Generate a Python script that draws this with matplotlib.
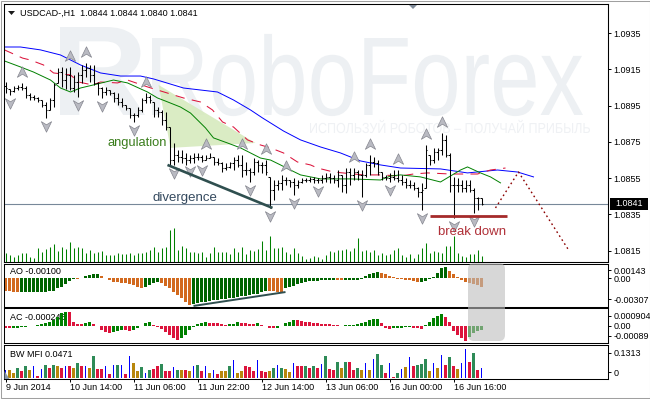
import matplotlib
matplotlib.use("Agg")
import matplotlib.pyplot as plt
import numpy as np
from matplotlib.path import Path
from matplotlib.patches import Polygon, Rectangle, FancyBboxPatch, PathPatch
from matplotlib.textpath import TextPath
from matplotlib.font_manager import FontProperties
from matplotlib.transforms import Affine2D, blended_transform_factory, offset_copy
from matplotlib.collections import LineCollection

# ---------------- data ----------------
title_text = "USDCAD-,H1  1.0844 1.0844 1.0840 1.0841"
first_open = 1.09060
highs = [1.09080, 1.09042, 1.09058, 1.09064, 1.09075, 1.09058, 1.09020, 1.09009, 1.08998, 1.08981,
         1.08970, 1.08992, 1.09075, 1.09157, 1.09163, 1.09157, 1.09163, 1.09119, 1.09135, 1.09174,
         1.09185, 1.09174, 1.09174, 1.09080, 1.09053, 1.09053, 1.09036, 1.09025, 1.09020, 1.08992,
         1.08953, 1.08937, 1.08909, 1.08942, 1.08992, 1.09020, 1.09009, 1.08970, 1.08942, 1.08926,
         1.08915, 1.08832, 1.08744, 1.08705, 1.08705, 1.08689, 1.08678, 1.08689, 1.08689, 1.08678,
         1.08678, 1.08689, 1.08667, 1.08661, 1.08639, 1.08634, 1.08639, 1.08667, 1.08678, 1.08678,
         1.08639, 1.08606, 1.08661, 1.08650, 1.08639, 1.08650, 1.08557, 1.08540, 1.08540, 1.08568,
         1.08557, 1.08540, 1.08551, 1.08540, 1.08551, 1.08551, 1.08557, 1.08557, 1.08551, 1.08568,
         1.08579, 1.08579, 1.08568, 1.08595, 1.08568, 1.08606, 1.08606, 1.08606, 1.08595, 1.08595,
         1.08634, 1.08678, 1.08667, 1.08650, 1.08584, 1.08568, 1.08579, 1.08595, 1.08595, 1.08568,
         1.08551, 1.08540, 1.08529, 1.08502, 1.08524, 1.08733, 1.08678, 1.08717, 1.08717, 1.08799,
         1.08788, 1.08689, 1.08557, 1.08551, 1.08540, 1.08540, 1.08540, 1.08496, 1.08447, 1.08440]
lows = [1.09020, 1.09009, 1.09025, 1.09036, 1.09036, 1.08992, 1.08981, 1.08981, 1.08970, 1.08942,
        1.08882, 1.08926, 1.08942, 1.09075, 1.09053, 1.09042, 1.09036, 1.09025, 1.08998, 1.09075,
        1.09108, 1.09080, 1.09064, 1.09009, 1.08992, 1.09009, 1.09009, 1.08970, 1.08953, 1.08942,
        1.08926, 1.08882, 1.08860, 1.08887, 1.08915, 1.08964, 1.08964, 1.08887, 1.08887, 1.08843,
        1.08816, 1.08623, 1.08623, 1.08639, 1.08634, 1.08623, 1.08634, 1.08634, 1.08650, 1.08639,
        1.08650, 1.08661, 1.08623, 1.08623, 1.08584, 1.08595, 1.08606, 1.08595, 1.08612, 1.08557,
        1.08568, 1.08529, 1.08568, 1.08584, 1.08579, 1.08568, 1.08386, 1.08430, 1.08485, 1.08485,
        1.08513, 1.08502, 1.08458, 1.08496, 1.08524, 1.08529, 1.08529, 1.08524, 1.08524, 1.08524,
        1.08529, 1.08524, 1.08524, 1.08502, 1.08474, 1.08469, 1.08513, 1.08540, 1.08540, 1.08447,
        1.08557, 1.08568, 1.08612, 1.08568, 1.08540, 1.08540, 1.08529, 1.08540, 1.08529, 1.08513,
        1.08496, 1.08496, 1.08485, 1.08447, 1.08375, 1.08496, 1.08623, 1.08634, 1.08650, 1.08678,
        1.08667, 1.08474, 1.08331, 1.08474, 1.08474, 1.08474, 1.08474, 1.08358, 1.08375, 1.08400]
closes = [1.09047, 1.09031, 1.09047, 1.09053, 1.09047, 1.09009, 1.08998, 1.08992, 1.08981, 1.08953,
          1.08926, 1.08981, 1.09064, 1.09135, 1.09091, 1.09119, 1.09047, 1.09080, 1.09119, 1.09146,
          1.09157, 1.09119, 1.09075, 1.09047, 1.09025, 1.09036, 1.09020, 1.08992, 1.08970, 1.08953,
          1.08937, 1.08898, 1.08898, 1.08926, 1.08981, 1.08998, 1.08981, 1.08926, 1.08915, 1.08871,
          1.08832, 1.08650, 1.08678, 1.08667, 1.08661, 1.08650, 1.08661, 1.08667, 1.08667, 1.08650,
          1.08661, 1.08667, 1.08639, 1.08634, 1.08606, 1.08612, 1.08634, 1.08650, 1.08623, 1.08595,
          1.08595, 1.08584, 1.08639, 1.08623, 1.08623, 1.08584, 1.08485, 1.08513, 1.08524, 1.08540,
          1.08540, 1.08529, 1.08513, 1.08529, 1.08540, 1.08540, 1.08546, 1.08540, 1.08540, 1.08551,
          1.08557, 1.08551, 1.08540, 1.08568, 1.08513, 1.08584, 1.08568, 1.08584, 1.08568, 1.08568,
          1.08623, 1.08639, 1.08634, 1.08584, 1.08557, 1.08551, 1.08557, 1.08551, 1.08540, 1.08529,
          1.08513, 1.08513, 1.08496, 1.08474, 1.08485, 1.08705, 1.08650, 1.08694, 1.08705, 1.08761,
          1.08678, 1.08513, 1.08513, 1.08513, 1.08496, 1.08513, 1.08485, 1.08442, 1.08440, 1.08410]
volume = [9, 7, 5, 7, 9, 9, 5, 4, 14, 10, 13, 15, 18, 11, 15, 13, 20, 14, 15, 14,
          9, 12, 9, 10, 11, 7, 7, 7, 9, 8, 8, 9, 7, 9, 9, 10, 12, 15, 10, 14,
          15, 32, 34, 12, 16, 14, 10, 10, 9, 10, 5, 9, 15, 10,
          10, 10, 8, 14, 10, 15, 8, 12, 11, 13, 21, 12, 26, 14, 14, 15, 10, 8, 14, 9,
          6, 3, 4, 6, 5, 3, 7, 11, 10, 12, 12, 13, 11, 14, 24, 11, 12, 10, 12, 7,
          9, 7, 8, 12, 14, 7, 5, 8, 4, 8, 14, 19, 9, 11, 10, 9, 16, 16, 26, 9,
          6, 5, 8, 8, 12, 6]

# Alligator lines (bar index, price); they run ahead of the last bar
jaw_x = [-0.25, 3.75, 8.75, 13.75, 18.75, 23.75, 28.75, 33.75, 37, 44.5, 48.75, 53, 57, 61.25,
         64.25, 69.5, 73.75, 78.75, 83.75, 88.75, 93.75, 98.75, 108.75, 115.5, 123, 128, 132]
jaw_p = [1.09273, 1.09273, 1.09257, 1.09229, 1.09174, 1.09130, 1.09113, 1.09113, 1.09097, 1.09047,
         1.09036, 1.09025, 1.08981, 1.08926, 1.08882, 1.08810, 1.08761, 1.08722, 1.08689, 1.08645,
         1.08623, 1.08606, 1.08601, 1.08579, 1.08595, 1.08584, 1.08557]
teeth_x = [-0.25, 4.25, 6.25, 9.5, 12, 16.25, 18.25, 21.75, 23.75, 28, 30.5, 35.5, 38, 44.5, 48.75,
           51.75, 54.25, 57, 60.5, 63.75, 66.25, 69.5, 73, 76.25, 78, 82, 89.5, 93.75, 98.75, 102,
           105.5, 111.25, 118, 121.25, 125]
teeth_p = [1.09257, 1.09212, 1.09201, 1.09174, 1.09130, 1.09119, 1.09080, 1.09064, 1.09080, 1.09075,
           1.09091, 1.09053, 1.09036, 1.08992, 1.08970, 1.08926, 1.08860, 1.08832, 1.08761, 1.08733,
           1.08717, 1.08689, 1.08639, 1.08623, 1.08606, 1.08584, 1.08568, 1.08568, 1.08562, 1.08573,
           1.08579, 1.08573, 1.08573, 1.08595, 1.08606]
lips_x = [-0.25, 3.75, 7, 11.25, 13.75, 16.25, 18.75, 22, 27, 30.5, 35.5, 38, 40, 43.75, 46.25, 50,
          52, 55.5, 58.75, 61.25, 63.75, 66.25, 68.75, 71.25, 73.75, 76.25, 78.75, 86.25, 93.75,
          96.25, 98.75, 103.75, 108.75, 113.75, 115.5, 118.75, 121.25, 123.75]
lips_p = [1.09196, 1.09163, 1.09135, 1.09091, 1.09047, 1.09025, 1.09047, 1.09064, 1.09091, 1.09075,
          1.09025, 1.08992, 1.08975, 1.08942, 1.08909, 1.08827, 1.08772, 1.08744, 1.08717, 1.08689,
          1.08661, 1.08650, 1.08623, 1.08595, 1.08568, 1.08557, 1.08546, 1.08546, 1.08540, 1.08562,
          1.08568, 1.08557, 1.08529, 1.08595, 1.08612, 1.08579, 1.08557, 1.08524]

fractal_up = [4, 16, 20, 35, 50, 59, 65, 70, 87, 91, 98, 105, 109]
fractal_down = [1, 10, 18, 24, 32, 42, 46, 49, 61, 66, 72, 78, 89, 96, 104, 112, 117]

ao = [-0.00140, -0.00144, -0.00148, -0.00152, -0.00151, -0.00150, -0.00149, -0.00148, -0.00147, -0.00146,
      -0.00145, -0.00143, -0.00135, -0.00110, -0.00092, -0.00066, -0.00029, -0.00007, -0.00010, 0.00007,
      0.00022, 0.00037, 0.00046, 0.00048, 0.00029, 0.00007, -0.00018, -0.00037, -0.00044, -0.00048,
      -0.00055, -0.00066, -0.00073, -0.00092, -0.00102, -0.00092, -0.00073, -0.00055, -0.00044, -0.00055,
      -0.00081, -0.00110, -0.00146, -0.00183, -0.00220, -0.00256, -0.00293, -0.00285, -0.00275, -0.00264,
      -0.00256, -0.00249, -0.00242, -0.00238, -0.00231, -0.00223, -0.00220, -0.00212, -0.00205, -0.00198,
      -0.00190, -0.00183, -0.00176, -0.00168, -0.00150, -0.00139, -0.00142, -0.00144, -0.00146, -0.00148,
      -0.00110, -0.00095, -0.00080, -0.00066, -0.00052, -0.00042, -0.00034, -0.00028, -0.00024, -0.00021,
      -0.00019, -0.00017, -0.00016, -0.00018, -0.00020, -0.00019, -0.00018, -0.00017, -0.00015, -0.00007,
      0.00029, 0.00044, 0.00055, 0.00066, 0.00064, 0.00048, 0.00029, 0.00011, -0.00002, -0.00007,
      -0.00015, -0.00018, -0.00029, -0.00044, -0.00037, -0.00026, -0.00007, 0.00018, 0.00055, 0.00110,
      0.00128, 0.00081, 0.00044, 0.00018, -0.00018, -0.00044, -0.00055, -0.00066, -0.00068, -0.00100]
ac = [-0.00013, -0.00014, -0.00012, -0.00009, -0.00007, -0.00006, -0.00002, 0.00002, 0.00006, 0.00009,
      0.00015, 0.00024, 0.00034, 0.00052, 0.00071, 0.00080, 0.00077, 0.00024, 0.00011, 0.00009,
      0.00015, 0.00024, 0.00009, 0.00002, -0.00022, -0.00032, -0.00041, -0.00036, -0.00028, -0.00022,
      -0.00024, -0.00028, -0.00022, -0.00013, 0.00000, 0.00015, 0.00024, 0.00006, -0.00004, -0.00017,
      -0.00032, -0.00050, -0.00065, -0.00079, -0.00069, -0.00050, -0.00022, -0.00004, 0.00009, 0.00019,
      0.00021, 0.00019, 0.00017, 0.00015, 0.00013, 0.00006, 0.00009, 0.00013, 0.00021, 0.00019,
      0.00015, 0.00013, 0.00011, 0.00017, 0.00006, -0.00002, -0.00009, -0.00013, -0.00009, 0.00000,
      0.00015, 0.00024, 0.00034, 0.00032, 0.00028, 0.00024, 0.00021, 0.00017, 0.00015, 0.00013,
      0.00011, 0.00009, 0.00007, 0.00006, 0.00002, 0.00004, 0.00006, 0.00007, 0.00009, 0.00015,
      0.00024, 0.00032, 0.00037, 0.00039, 0.00015, -0.00009, -0.00017, -0.00013, -0.00011, -0.00009,
      -0.00007, -0.00006, -0.00009, -0.00013, -0.00017, 0.00006, 0.00024, 0.00047, 0.00058, 0.00065,
      0.00052, 0.00024, -0.00028, -0.00050, -0.00069, -0.00084, -0.00060, -0.00041, -0.00030, -0.000246]
mfi = [0.0395, 0.0395, 0.0254, 0.0465, 0.0324, 0.0536, 0.0367, 0.0578, 0.0113, 0.0437,
       0.0606, 0.0465, 0.0606, 0.0578, 0.0465, 0.0578, 0.0578, 0.0465, 0.0677, 0.0536,
       0.0536, 0.0465, 0.1001, 0.0437, 0.0423, 0.0578, 0.0212, 0.0606, 0.0606, 0.0606,
       0.0212, 0.0987, 0.0705, 0.0324, 0.0494, 0.0254, 0.0353, 0.0437, 0.0536, 0.0649,
       0.0324, 0.0324, 0.0494, 0.0395, 0.0353, 0.0353, 0.0324, 0.0536, 0.0592, 0.0324,
       0.0564, 0.0254, 0.0395, 0.0183, 0.0324, 0.0324, 0.0536, 0.0818, 0.0254, 0.0324,
       0.0536, 0.0494, 0.0324, 0.0818, 0.0324, 0.0282, 0.0324, 0.0451, 0.0592, 0.0451,
       0.0423, 0.0268, 0.0677, 0.0536, 0.0536, 0.0536, 0.0451, 0.0536, 0.0451, 0.0635,
       0.0987, 0.0423, 0.0395, 0.0733, 0.0465, 0.0733, 0.0733, 0.0381, 0.0465, 0.0353,
       0.0677, 0.0353, 0.0874, 0.1100, 0.0606, 0.0254, 0.0705, 0.0071, 0.0254, 0.0423,
       0.0494, 0.0959, 0.0536, 0.0592, 0.0635, 0.0888, 0.0310, 0.0705, 0.0479, 0.1058,
       0.0606, 0.0959, 0.0564, 0.0423, 0.0677, 0.1313, 0.0733, 0.1156, 0.0395, 0.0471]
# BW MFI zones: G = green, S = squat, F = fade, K = fake
mfi_zone = list("KFFGSGFKSK" "GSGFSKSFGS" "KFGSSKSKGK" "SKFFGKGSSG" "SSKGFSFKGS" "KFKSFFGKFF"
                "SSSKSSFGKG" "FFKSSGSGSK" "GSSGFGSSGF" "KFKGGSKSGK" "FKSGGGFKFK" "SGSFKKSGSK")

time_ticks = [0, 16, 32, 48, 64, 80, 96, 112]
time_labels = ["9 Jun 2014", "10 Jun 14:00", "11 Jun 06:00", "11 Jun 22:00",
               "12 Jun 14:00", "13 Jun 06:00", "16 Jun 00:00", "16 Jun 16:00"]
price_ticks = [1.0935, 1.0915, 1.0895, 1.0875, 1.0855, 1.0835, 1.0815]
last_price = 1.0841

ao_label_vals = [0.00091, 0.0, -0.00228]
ao_label_txt = ["0.00143", "0.00", "-0.00307"]
ac_label_vals = [0.00058, 0.0, -0.00056]
ac_label_txt = ["0.000904", "0.00", "-0.00089"]
bw_label_vals = [0.1159, 0.0272]
bw_label_txt = ["0.1313", "0"]

# drawn analysis objects
angulation_x = [38.25, 41.25, 62.5]
angulation_p = [1.09064, 1.08717, 1.08744]
divergence_x = [40.5, 66.75]
divergence_p = [1.08623, 1.08386]
ao_div_x = [47, 70]
ao_div_v = [-0.00304, -0.00151]
breakdown_x = [106, 125.25]
breakdown_p = [1.08342, 1.08342]
forecast_x = [122.5, 128.25, 140.75]
forecast_p = [1.08386, 1.08584, 1.08155]

# ---------------- figure ----------------
W, H = 650, 399
FS = 6.5
FAM = ['Liberation Sans', 'DejaVu Sans']
plt.rcParams['font.family'] = FAM
plt.rcParams['axes.linewidth'] = 0.75
fig = plt.figure(figsize=(W / 100, H / 100), dpi=100)
fig.patch.set_facecolor('white')


def px_axes(x0, y0, x1, y1, **kw):
    return fig.add_axes([x0 / W, 1 - y1 / H, (x1 - x0) / W, (y1 - y0) / H], **kw)


XL = (-0.375, 150.625)
idx = np.arange(len(closes))

# main price panel
ax = px_axes(4, 4, 608, 262)
axv = ax.twinx()
ax.set_zorder(3)
axv.set_zorder(2)
ax.patch.set_visible(False)
axv.patch.set_facecolor('white')
ax.set_xlim(*XL)
ax.set_ylim(1.08088, 1.09510)
axv.set_ylim(0, 258)
axv.set_yticks([])
axv.tick_params(right=False, labelright=False)
ax.set_xticks([])
ax.yaxis.tick_right()
ax.set_yticks(price_ticks)
ax.set_yticklabels([f"{p:.4f}" for p in price_ticks])
ax.tick_params(axis='y', direction='out', length=2.2, width=0.7, pad=1.5, labelsize=FS)


def text_patch(target, s, x0, x1, baseline, cap, color, weight='normal'):
    prop = FontProperties(family='Liberation Sans', weight=weight)
    tp = TextPath((0, 0), s, size=1, prop=prop)
    ext = tp.get_extents()
    capref = TextPath((0, 0), 'H', size=1, prop=prop).get_extents().height
    sx = (x1 - x0) / ext.width
    sy = cap / capref
    tr = Affine2D().translate(-ext.x0, 0).scale(sx, sy).translate(x0, H - baseline)
    pp = PathPatch(tp, transform=tr, fc=color, ec='none', zorder=0)
    target.add_patch(pp)


# watermark (logo glyph + word + slogan)
WM = '#edf0f3'
text_patch(axv, "R", 60, 145, 115, 88, WM, weight='bold')
text_patch(axv, "RoboForex", 152, 583, 115, 77, WM)
text_patch(axv, "ИСПОЛЬЗУЙ РОБОТОВ – ПОЛУЧАЙ ПРИБЫЛЬ", 310, 590, 133, 10, '#eff1f4')

# volumes
axv.vlines(idx, 0, volume, color='#008000', lw=0.75, zorder=1)

# angulation area
ax.add_patch(Polygon(list(zip(angulation_x, angulation_p)), closed=True,
                     fc='#d6eabe', ec='none', alpha=0.9, zorder=1))

# current price line
ax.axhline(last_price, color='#778899', lw=0.8, zorder=1.5)

# alligator
ax.plot(jaw_x, jaw_p, color='#0000ff', lw=0.7, zorder=2)
ax.plot(teeth_x, teeth_p, color='#dc143c', lw=0.75, dashes=(9, 7), zorder=2)
ax.plot(lips_x, lips_p, color='#008000', lw=0.7, zorder=2)

# OHLC bars
opens = [first_open] + closes[:-1]
segs = []
for i in idx:
    o = min(max(opens[i], lows[i]), highs[i])
    segs.append([(i, lows[i]), (i, highs[i])])
    segs.append([(i - 0.35, o), (i, o)])
    segs.append([(i, closes[i]), (i + 0.35, closes[i])])
ax.add_collection(LineCollection(segs, colors='black', linewidths=0.75, zorder=3))

# fractals
up_path = Path([(0, 1), (0.9, -0.85), (0, -0.3), (-0.9, -0.85), (0, 1)],
               [Path.MOVETO, Path.LINETO, Path.LINETO, Path.LINETO, Path.CLOSEPOLY])
down_path = Path([(0, -1), (0.9, 0.85), (0, 0.3), (-0.9, 0.85), (0, -1)],
                 [Path.MOVETO, Path.LINETO, Path.LINETO, Path.LINETO, Path.CLOSEPOLY])
ax.plot(fractal_up, [highs[i] for i in fractal_up], ls='none', marker=up_path, ms=8.2,
        mfc='#b9bac2', mec='#85868f', mew=0.5, zorder=4,
        transform=offset_copy(ax.transData, fig=fig, y=11, units='dots'))
ax.plot(fractal_down, [lows[i] for i in fractal_down], ls='none', marker=down_path, ms=8.2,
        mfc='#b9bac2', mec='#85868f', mew=0.5, zorder=4,
        transform=offset_copy(ax.transData, fig=fig, y=-8, units='dots'))

# analysis lines and notes
ax.plot(divergence_x, divergence_p, color='#2f4f4f', lw=1.9, solid_capstyle='butt', zorder=5)
ax.plot(breakdown_x, breakdown_p, color='#a52a2a', lw=2.0, solid_capstyle='butt', zorder=5)
ax.plot(forecast_x, forecast_p, color='#8b0000', lw=1.0, linestyle=(0, (1.2, 2.2)), zorder=5)
ax.text(25.5, 1.08744, "angulation", color='#3a7d1c', fontsize=9.3, ha='left', va='center', zorder=6)
ax.text(36.75, 1.08442, "divergence", color='#34495e', fontsize=9.5, ha='left', va='center', zorder=6)
ax.text(108.25, 1.08254, "break down", color='#b03038', fontsize=9.5, ha='left', va='center', zorder=6)
ax.annotate(title_text, xy=(0, 1), xycoords='axes fraction', xytext=(16, -9),
            textcoords='offset pixels', ha='left', va='center', fontsize=FS, zorder=6)

# last price box
bt = blended_transform_factory(ax.transAxes, ax.transData)
ax.add_patch(Rectangle((1.0033, last_price - 0.00035), 0.063, 0.00066, transform=bt,
                       fc='black', ec='black', lw=0, clip_on=False, zorder=7))
ax.text(1.0345, last_price, f"{last_price:.4f}", transform=bt, color='white', fontsize=FS,
        ha='center', va='center', clip_on=False, zorder=8)

# ---------------- AO ----------------
ax_ao = px_axes(4, 263.5, 608, 306.5)
ao_col = ['#d2691e'] + ['#006400' if ao[i] > ao[i - 1] else '#d2691e' for i in range(1, len(ao))]
ax_ao.bar(idx, ao, width=0.75, color=ao_col, lw=0, zorder=2)
ax_ao.plot(ao_div_x, ao_div_v, color='#2f4f4f', lw=1.4, solid_capstyle='butt', zorder=3)
ax_ao.set_xlim(*XL)
ax_ao.set_ylim(-0.00310, 0.00163)
ax_ao.set_xticks([])
ax_ao.yaxis.tick_right()
ax_ao.set_yticks(ao_label_vals)
ax_ao.set_yticklabels(ao_label_txt)
ax_ao.tick_params(axis='y', direction='out', length=2.2, width=0.7, pad=1.5, labelsize=FS)
ax_ao.annotate("AO -0.00100", xy=(0, 1), xycoords='axes fraction', xytext=(6, -8.5),
               textcoords='offset pixels', ha='left', va='center', fontsize=FS, zorder=1)

# ---------------- AC ----------------
ax_ac = px_axes(4, 308.3, 608, 343.3)
ac_col = ['#dc143c'] + ['#008000' if ac[i] > ac[i - 1] else '#dc143c' for i in range(1, len(ac))]
ax_ac.bar(idx, ac, width=0.75, color=ac_col, lw=0, zorder=2)
ax_ac.set_xlim(*XL)
ax_ac.set_ylim(-0.00097, 0.00099)
ax_ac.set_xticks([])
ax_ac.yaxis.tick_right()
ax_ac.set_yticks(ac_label_vals)
ax_ac.set_yticklabels(ac_label_txt)
ax_ac.tick_params(axis='y', direction='out', length=2.2, width=0.7, pad=1.5, labelsize=FS)
ax_ac.annotate("AC -0.000246", xy=(0, 1), xycoords='axes fraction', xytext=(6, -9),
               textcoords='offset pixels', ha='left', va='center', fontsize=FS, zorder=1)

# ---------------- BW MFI ----------------
ax_bw = px_axes(4, 345, 608, 379)
zone_color = {'G': '#2e8b57', 'S': '#dc143c', 'F': '#b8860b', 'K': '#0000ff'}
zone_width = {'G': 0.75, 'S': 0.75, 'F': 0.75, 'K': 0.25}
ax_bw.bar(idx, mfi, width=[zone_width[z] for z in mfi_zone],
          color=[zone_color[z] for z in mfi_zone], lw=0, zorder=2)
ax_bw.set_xlim(*XL)
ax_bw.set_ylim(-0.0032, 0.1507)
ax_bw.yaxis.tick_right()
ax_bw.set_yticks(bw_label_vals)
ax_bw.set_yticklabels(bw_label_txt)
ax_bw.tick_params(axis='y', direction='out', length=2.2, width=0.7, pad=1.5, labelsize=FS)
ax_bw.set_xticks(time_ticks)
ax_bw.set_xticklabels([''] * len(time_ticks))
ax_bw.tick_params(axis='x', direction='out', length=2.5, width=0.7)
ax_bw.annotate("BW MFI 0.0471", xy=(0, 1), xycoords='axes fraction', xytext=(6, -9.5),
               textcoords='offset pixels', ha='left', va='center', fontsize=FS, zorder=1)
tl = offset_copy(blended_transform_factory(ax_bw.transData, ax_bw.transAxes), fig=fig,
                 x=1, y=-9, units='dots')
for t, lab in zip(time_ticks, time_labels):
    ax_bw.text(t, 0, lab, transform=tl, ha='left', va='center', fontsize=FS, clip_on=False)

# ---------------- overlay ----------------
ov = fig.add_axes([0, 0, 1, 1], zorder=20)
ov.set_xlim(0, W)
ov.set_ylim(H, 0)
ov.axis('off')
ov.patch.set_alpha(0)
ov.add_patch(FancyBboxPatch((468, 263), 37, 78, boxstyle='round,pad=0,rounding_size=6',
                            fc='#bdbdbd', ec='none', alpha=0.6))
ov.add_patch(Polygon([(8, 11), (15, 11), (11.5, 15)], closed=True, fc='#1a1a1a', ec='none'))
ov.add_patch(Polygon([(409, 5), (417, 5), (413, 9)], closed=True, fc='#7f8a99', ec='none'))
ov.add_patch(Polygon([(4.5, 371), (9.5, 379), (4.5, 379)], closed=True, fc='#8898a8', ec='none'))
ov.add_patch(Rectangle((0.5, 0.5), W - 1, H - 1.5, fill=False, ec='#a0a0a0', lw=0.75))

fig.savefig('out.png', dpi=100)
